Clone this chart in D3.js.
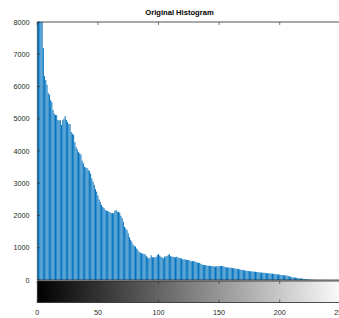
<!DOCTYPE html>
<html><head><meta charset="utf-8">
<script src="https://cdn.jsdelivr.net/npm/d3@7"></script>
<style>html,body{margin:0;padding:0;background:#fff;overflow:hidden}</style>
</head><body>
<svg id="c" width="339" height="318"></svg>
<script>
const title = "Original Histogram";
const xTicks = [0, 50, 100, 150, 200, 250];
const yTicks = [0, 1000, 2000, 3000, 4000, 5000, 6000, 7000, 8000];
const counts = [
14500,11200,9800,9100,8400, 7190,6320,6200,6050,5800,
5750,5580,5520,5270,5160, 5115,5110,4960,4950,4960,
4805,4960,5000,5084,4960, 4900,4836,4830,4588,4540,
4495,4278,4123,4050,3968, 3930,3890,3700,3620,3513,
3490,3472,3420,3380,3300, 3150,3050,2950,2820,2740,
2620,2500,2420,2325,2270, 2232,2180,2148,2140,2117,
2100,2077,2080,2070,2150, 2170,2120,2110,2087,1990,
1922,1808,1650,1600,1550, 1450,1330,1250,1187,1100,
1054,1040,980,930,870, 850,830,820,806,796,
740,703,672,690,765, 703,710,700,720,775,
806,760,723,700,672, 723,730,744,780,796,
740,723,723,710,703, 723,700,690,672,672,
641,641,645,620,620, 625,600,579,590,579,
579,560,537,537,530, 496,480,465,465,460,
444,444,440,434,434, 434,420,413,430,413,
440,434,434,434,420, 400,393,393,390,380,
380,372,365,360,351, 345,340,331,320,310,
305,300,289,285,280, 275,270,265,262,258,
255,250,244,238,234, 228,227,225,222,215,
210,207,205,200,198, 192,188,182,178,172,
165,157,152,150,146, 140,134,125,112,100,
92,84,80,75,70, 62,52,50,48,42,
36,31,26,22,18, 14,10,8,6,5,
4,3,3,2,2, 1,1,1,1,1,
1,0,0,0,0, 0,0,0,0,0,
0,0,0,0,0, 0
];

const svg = d3.select("#c");
const x = d3.scaleLinear().domain([0, 255]).range([37.3, 346.4]);
const y = d3.scaleLinear().domain([0, 8000]).range([280, 22]);
const ink = "#262626";
const font = "'Liberation Sans', Arial, sans-serif";

svg.append("defs").append("clipPath").attr("id","pc")
  .append("rect").attr("x", x(0)).attr("y", y(8000)).attr("width", x(255)-x(0)).attr("height", y(0)-y(8000));

// bars
const bw = (x(1)-x(0)) * 0.82;
svg.append("g").attr("clip-path","url(#pc)")
  .selectAll("rect").data(counts).join("rect")
  .attr("x", (d,i) => x(i) - bw/2)
  .attr("y", d => y(Math.min(d, 9000)))
  .attr("width", bw)
  .attr("height", d => y(0) - y(Math.min(d, 9000)))
  .attr("fill", "#0072BD");

// axes box lines
const g = svg.append("g");
g.append("line").attr("x1", x(0)).attr("x2", x(255)).attr("y1", y(8000)).attr("y2", y(8000)).attr("stroke", ink).attr("stroke-width", 0.8);
g.append("line").attr("x1", x(0)).attr("x2", x(0)).attr("y1", y(8000)).attr("y2", y(0)).attr("stroke", ink).attr("stroke-width", 0.6);
g.append("line").attr("x1", x(0)).attr("x2", x(255)).attr("y1", y(0)).attr("y2", y(0)).attr("stroke", ink).attr("stroke-width", 0.8);

// y ticks and labels
const ya = svg.append("g");
ya.selectAll("line").data(yTicks).join("line")
  .attr("x1", x(0)).attr("x2", x(0)+2.5).attr("y1", d=>y(d)).attr("y2", d=>y(d))
  .attr("stroke", ink).attr("stroke-width", 0.6);
ya.selectAll("text").data(yTicks).join("text")
  .attr("x", 29.5).attr("y", d=>y(d)).attr("dy", "0.35em")
  .attr("text-anchor", "end").attr("font-family", font).attr("font-size", 7.2)
  .attr("fill", ink).text(d => d);

// top ticks
svg.append("g").selectAll("line").data(xTicks).join("line")
  .attr("x1", d=>x(d)).attr("x2", d=>x(d)).attr("y1", y(8000)).attr("y2", y(8000)+3)
  .attr("stroke", ink).attr("stroke-width", 0.6);

// gradient bar
const grad = svg.select("defs").append("linearGradient").attr("id","gr")
  .attr("gradientUnits","userSpaceOnUse").attr("x1", x(0)).attr("x2", x(255)).attr("y1",0).attr("y2",0);
grad.append("stop").attr("offset","0%").attr("stop-color","#000");
grad.append("stop").attr("offset","100%").attr("stop-color","#fff");
const gy0 = 281, gy1 = 302.5;
svg.append("rect").attr("x", x(0)).attr("y", gy0).attr("width", x(255)-x(0)).attr("height", gy1-gy0)
  .attr("fill","url(#gr)").attr("stroke", ink).attr("stroke-width", 0.8);
const gt = svg.append("g");
gt.selectAll("line.t").data(xTicks).join("line").attr("class","t")
  .attr("x1", d=>x(d)).attr("x2", d=>x(d)).attr("y1", gy0).attr("y2", gy0+3)
  .attr("stroke", ink).attr("stroke-width", 0.6);
gt.selectAll("line.b").data(xTicks).join("line").attr("class","b")
  .attr("x1", d=>x(d)).attr("x2", d=>x(d)).attr("y1", gy1).attr("y2", gy1-3)
  .attr("stroke", ink).attr("stroke-width", 0.6);
gt.selectAll("text").data(xTicks).join("text")
  .attr("x", d=>x(d)).attr("y", 314.5).attr("text-anchor","middle")
  .attr("font-family", font).attr("font-size", 7.2).attr("fill", ink).text(d=>d);

// title
svg.append("text").attr("x", 179.5).attr("y", 15).attr("text-anchor","middle")
  .attr("font-family", font).attr("font-size", 7.6).attr("font-weight","bold")
  .attr("fill", "#000").text(title);
</script>
</body></html>
